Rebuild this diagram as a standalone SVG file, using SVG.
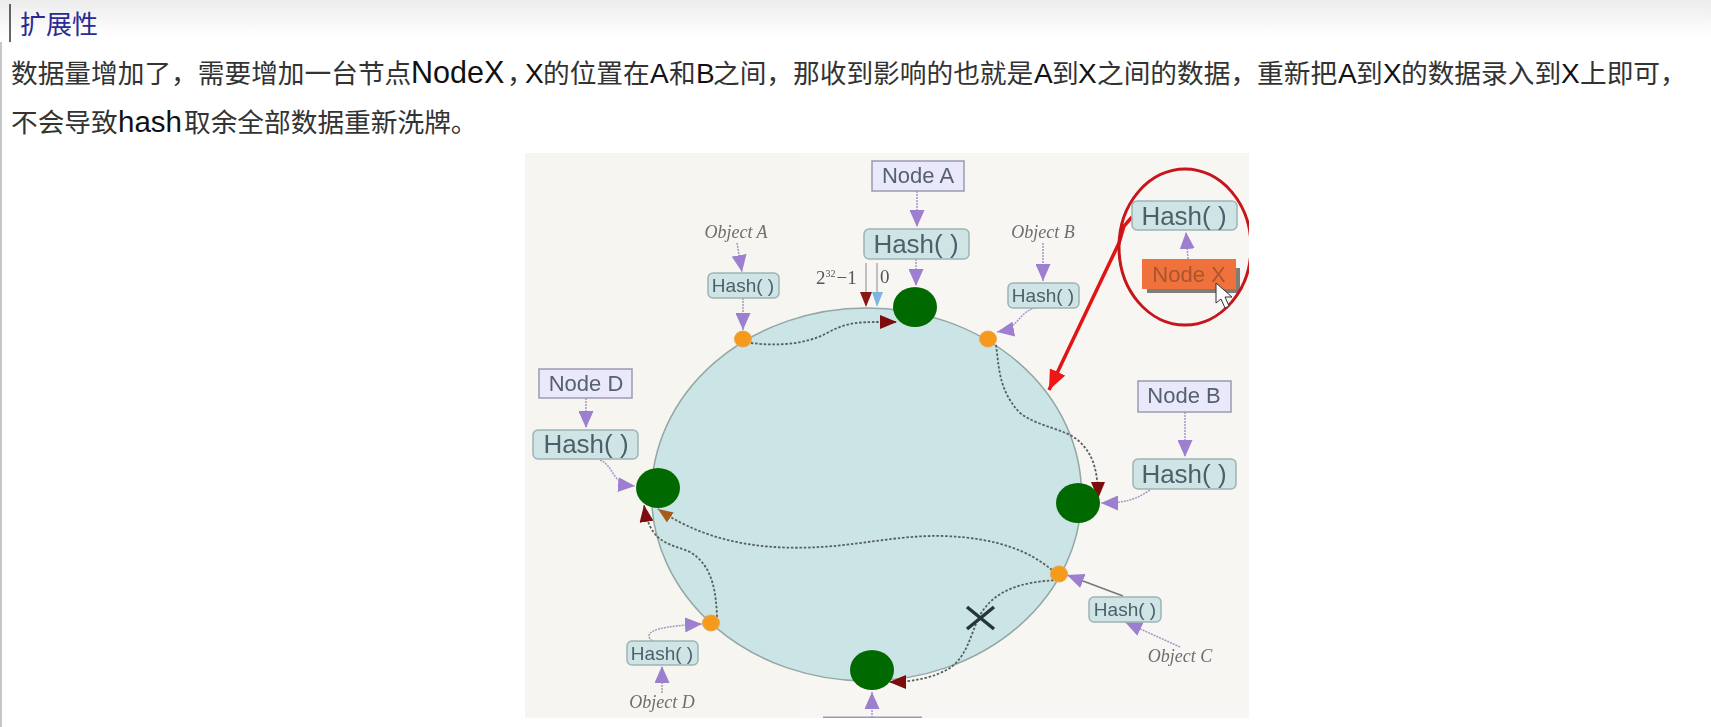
<svg xmlns="http://www.w3.org/2000/svg" width="1711" height="727" viewBox="0 0 1711 727">
<style>
.doc{font-family:"Liberation Sans","Noto Sans CJK SC",sans-serif;font-size:28px;fill:#111}
.cjk{font-family:"Noto Sans CJK SC",sans-serif;font-size:26.7px;fill:#333}
.head{font-family:"Noto Sans CJK SC",sans-serif;font-size:26px;fill:#2a2a92}
.hash{fill:#cfe4e4;stroke:#9fb3b5;stroke-width:1.5}
.node{fill:#e9e9fb;stroke:#9b9bb0;stroke-width:1.5}
.big{font-family:"Liberation Sans",sans-serif;font-size:26px;fill:#4b606a;text-anchor:middle}
.small{font-family:"Liberation Sans",sans-serif;font-size:19px;fill:#4b606a;text-anchor:middle}
.name{font-family:"Liberation Sans",sans-serif;font-size:22px;fill:#56606f;text-anchor:middle}
.obj{font-family:"Liberation Serif",serif;font-style:italic;font-size:18px;fill:#6e6e6e;text-anchor:middle}
.math{font-family:"Liberation Serif",serif;font-size:19px;fill:#555}
.ring{fill:#cbe4e5;stroke:#93a8a4;stroke-width:1.5}
.hub{fill:#066b06}
.key{fill:#f59a1c;stroke:#e8a850;stroke-width:1}
.p{fill:none;stroke:#a797c8;stroke-width:1.5;stroke-dasharray:2 1;marker-end:url(#mp)}
.d{fill:none;stroke:#55605f;stroke-width:1.8;stroke-dasharray:2.5 1.8}
.t{stroke:#8a8a8a;stroke-width:1;fill:none}
</style>
<defs>
<linearGradient id="top" x1="0" y1="0" x2="0" y2="1"><stop offset="0" stop-color="#ececec"/><stop offset="1" stop-color="#fff"/></linearGradient>
<filter id="soft" x="-2%" y="-2%" width="104%" height="104%"><feGaussianBlur stdDeviation="0.55"/></filter>
<clipPath id="panel"><rect x="525" y="153" width="724" height="565"/></clipPath>
<marker id="mp" markerUnits="userSpaceOnUse" markerWidth="17" markerHeight="15" refX="17" refY="7.5" orient="auto" viewBox="0 0 17 15"><path d="M0 0L17 7.5L0 15Z" fill="#9c7fcf"/></marker>
<marker id="mr" markerUnits="userSpaceOnUse" markerWidth="17" markerHeight="14" refX="17" refY="7" orient="auto" viewBox="0 0 17 14"><path d="M0 0L17 7L0 14Z" fill="#7d0c0c"/></marker>
<marker id="mb" markerUnits="userSpaceOnUse" markerWidth="15" markerHeight="12" refX="15" refY="6" orient="auto" viewBox="0 0 15 12"><path d="M0 0L15 6L0 12Z" fill="#a65c14"/></marker>
<marker id="ma" markerUnits="userSpaceOnUse" markerWidth="20" markerHeight="17" refX="20" refY="8.5" orient="auto" viewBox="0 0 20 17"><path d="M0 0L20 8.5L0 17Z" fill="#f01212"/></marker>
</defs>
<rect width="1711" height="727" fill="#fff"/>
<rect width="1711" height="36" fill="url(#top)"/>
<path d="M10 4V42" stroke="#333" stroke-width="1.5"/>
<path d="M1 42V727" stroke="#b5b5b5" stroke-width="1.5"/>
<text class="head" x="20" y="34">扩展性</text>
<text class="doc" y="83"><tspan class="cjk" x="11">数据量增加了，需要增加一台节点</tspan><tspan x="411" font-size="30.5">NodeX</tspan><tspan class="cjk" x="507" letter-spacing="-9">，</tspan><tspan x="525">X</tspan><tspan class="cjk" x="543">的位置在</tspan><tspan x="650">A</tspan><tspan class="cjk" x="669">和</tspan><tspan x="696">B</tspan><tspan class="cjk" x="713">之间，那收到影响的也就是</tspan><tspan x="1034">A</tspan><tspan class="cjk" x="1052">到</tspan><tspan x="1078">X</tspan><tspan class="cjk" x="1097">之间的数据，重新把</tspan><tspan x="1338">A</tspan><tspan class="cjk" x="1356">到</tspan><tspan x="1383">X</tspan><tspan class="cjk" x="1401">的数据录入到</tspan><tspan x="1561">X</tspan><tspan class="cjk" x="1580">上即可，</tspan></text>
<text class="doc" y="132"><tspan class="cjk" x="11">不会导致</tspan><tspan x="118" font-size="29.5">hash</tspan><tspan class="cjk" x="184">取余全部数据重新洗牌。</tspan></text>

<g id="figure" filter="url(#soft)">
<g clip-path="url(#panel)">
<rect x="525" y="153" width="724" height="565" fill="#f6f5f0"/>
<rect x="800" y="153" width="449" height="565" fill="#f8f6f3"/>
<g id="ring"><ellipse class="ring" cx="866.5" cy="494.5" rx="215" ry="186.5"/></g>

<g id="connectors">
<path class="d" d="M751 343C775 346 805 345 827 333S860 322 897 322" marker-end="url(#mr)"/>
<path class="d" d="M996 345C999 365 998 390 1020 413C1040 428 1065 428 1080 442C1093 455 1098 470 1098 499" marker-end="url(#mr)"/>
<path class="d" d="M1052 570C1030 552 1000 538 943 536C900 535 860 545 820 547C770 550 710 545 658 509" marker-end="url(#mb)"/>
<path class="d" d="M1058 580C1020 582 995 590 980 615C970 635 968 655 950 668C935 677 915 682 889 682" marker-end="url(#mr)"/>
<path class="d" d="M717 617C716 590 712 565 690 552C670 543 650 545 644 505" marker-end="url(#mr)"/>
<path class="p" d="M917 191V227"/>
<path class="p" d="M916 259V286"/>
<path class="p" d="M737 243L742 272"/>
<path class="p" d="M743 298V330"/>
<path class="p" d="M1043 243V281"/>
<path class="p" d="M1035 308C1018 312 1020 328 997 332"/>
<path class="p" d="M1188 259L1186 232"/>
<path class="p" d="M586 398V428"/>
<path class="p" d="M600 460C615 466 610 484 635 486"/>
<path class="p" d="M652 641C640 630 665 626 702 624"/>
<path class="p" d="M662 693V666"/>
<path class="p" d="M1185 412V457"/>
<path class="p" d="M1150 490C1135 500 1125 503 1101 503"/>
<path class="p" d="M1123 596L1067 575" style="stroke:#777;stroke-dasharray:none"/>
<path class="p" d="M1180 647L1125 622"/>
<path class="p" d="M872 718V692"/>
<path class="t" d="M866 263V292M877 263V292"/>
<path d="M860 292H872L866 307Z" fill="#8a1414"/>
<path d="M872 292H883L877 307Z" fill="#7db4e2"/>
<path d="M1132 217L1124 226L1119 243L1049 390" fill="none" stroke="#e01212" stroke-width="3.5" marker-end="url(#ma)"/>
</g>

<g id="scale-labels">
<text class="math" x="816" y="284">2<tspan font-size="10" dy="-7">32</tspan><tspan dy="7" dx="1">−1</tspan></text>
<text class="math" x="880" y="283" font-size="16">0</text>
</g>

<g id="hub-a"><ellipse class="hub" cx="915" cy="307" rx="22" ry="20"/></g>
<g id="hub-b"><ellipse class="hub" cx="1078" cy="503" rx="22" ry="20"/></g>
<g id="hub-c"><ellipse class="hub" cx="872" cy="670" rx="22" ry="20"/></g>
<g id="hub-d"><ellipse class="hub" cx="658" cy="488" rx="22" ry="20"/></g>
<g id="key-a"><ellipse class="key" cx="743" cy="339" rx="8.5" ry="8"/></g>
<g id="key-b"><ellipse class="key" cx="988" cy="339" rx="8.5" ry="8"/></g>
<g id="key-c"><ellipse class="key" cx="1059" cy="574" rx="8.5" ry="8"/></g>
<g id="key-d"><ellipse class="key" cx="711" cy="623" rx="8.5" ry="8"/></g>

<g id="node-a"><rect class="node" x="872" y="161" width="92" height="30"/><text class="name" x="918" y="183">Node A</text></g>
<g id="hash-a"><rect class="hash" x="864" y="229" width="105" height="30" rx="5"/><text class="big" x="916" y="253">Hash( )</text></g>
<g id="object-a"><text class="obj" x="736" y="238">Object A</text></g>
<g id="hash-obj-a"><rect class="hash" x="708" y="273" width="71" height="25" rx="5"/><text class="small" x="743" y="292">Hash( )</text></g>
<g id="object-b"><text class="obj" x="1043" y="238">Object B</text></g>
<g id="hash-obj-b"><rect class="hash" x="1008" y="283" width="71" height="25" rx="5"/><text class="small" x="1043" y="302">Hash( )</text></g>
<g id="node-d"><rect class="node" x="539" y="369" width="93" height="29"/><text class="name" x="586" y="391">Node D</text></g>
<g id="hash-d"><rect class="hash" x="533" y="430" width="105" height="29" rx="5"/><text class="big" x="586" y="453">Hash( )</text></g>
<g id="hash-obj-d"><rect class="hash" x="627" y="641" width="71" height="24" rx="5"/><text class="small" x="662" y="660">Hash( )</text></g>
<g id="object-d"><text class="obj" x="662" y="708">Object D</text></g>
<g id="node-b"><rect class="node" x="1138" y="381" width="93" height="31"/><text class="name" x="1184" y="403">Node B</text></g>
<g id="hash-b"><rect class="hash" x="1133" y="459" width="103" height="30" rx="5"/><text class="big" x="1184" y="483">Hash( )</text></g>
<g id="hash-obj-c"><rect class="hash" x="1089" y="597" width="72" height="25" rx="5"/><text class="small" x="1125" y="616">Hash( )</text></g>
<g id="object-c"><text class="obj" x="1180" y="662">Object C</text></g>
<g id="hash-c-top"><rect x="823" y="716.5" width="99" height="1.5" fill="#9b9bb0"/></g>

<path id="cross" d="M967 607L994 629M994 607L967 629" stroke="#26363a" stroke-width="3.5" fill="none"/>

<g id="hash-x"><rect class="hash" x="1132" y="201" width="105" height="29" rx="5"/><text class="big" x="1184" y="225">Hash( )</text></g>
<g id="node-x"><rect x="1147" y="268" width="93" height="25" fill="#7f7d78"/><rect x="1142" y="259" width="94" height="30" fill="#f0713a"/><text class="name" x="1189" y="282" style="fill:#a8562e">Node X</text></g>
<ellipse id="highlight" cx="1185" cy="247" rx="66" ry="78" fill="none" stroke="#c6121a" stroke-width="3"/>
</g>
</g>
<path id="cursor" d="M1216 283L1216 303L1221 299L1225 308L1229 306L1225 297L1232 297Z" fill="#fff" stroke="#333" stroke-width="1"/>
</svg>
